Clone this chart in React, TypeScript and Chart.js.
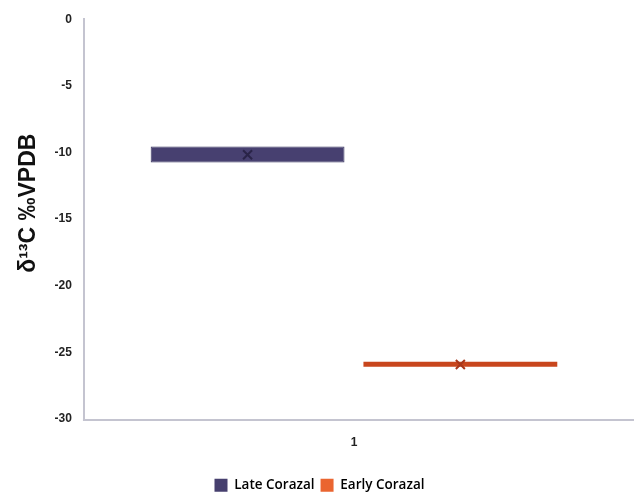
import React, { useEffect, useRef } from "react";
import { Chart, registerables } from "chart.js";

Chart.register(...registerables);

const categories = ["1"];
const seriesNames = ["Late Corazal", "Early Corazal"];
const lowValues = [-10.75, -26.07];
const highValues = [-9.55, -25.7];
const meanValues = [-10.17, -25.9];
const fillColors = ["#474070", "#c8461d"];
const legendColors = ["#463f6e", "#ea6530"];
const yTicks = [0, -5, -10, -15, -20, -25, -30];

const meanPlugin = {
  id: "meanMarkers",
  afterDatasetsDraw(chart: any) {
    const ctx = chart.ctx;
    const yScale = chart.scales.y;
    seriesNames.forEach((_, i) => {
      const meta = chart.getDatasetMeta(i);
      const el = meta.data[0];
      if (!el) return;
      const x = el.x;
      const y = yScale.getPixelForValue(meanValues[i]);
      const s = 4.5;
      ctx.save();
      ctx.strokeStyle = i === 0 ? "#2a2448" : "#a8361a";
      ctx.lineWidth = 2;
      ctx.beginPath();
      ctx.moveTo(x - s, y - s);
      ctx.lineTo(x + s, y + s);
      ctx.moveTo(x + s, y - s);
      ctx.lineTo(x - s, y + s);
      ctx.stroke();
      ctx.restore();
    });
    // x-axis baseline, running to the canvas edge
    const a = chart.chartArea;
    ctx.save();
    ctx.strokeStyle = "#c4c4d0";
    ctx.lineWidth = 2;
    ctx.beginPath();
    ctx.moveTo(a.left - 1, Math.round(a.bottom) + 1);
    ctx.lineTo(chart.width, Math.round(a.bottom) + 1);
    ctx.stroke();
    ctx.restore();
  },
};

export default function App() {
  const ref = useRef<HTMLCanvasElement | null>(null);
  useEffect(() => {
    document.body.style.margin = "0";
    const canvas = ref.current!;
    const chart = new Chart(canvas, {
      type: "bar",
      data: {
        labels: categories,
        datasets: seriesNames.map((name, i) => ({
          label: name,
          data: [[lowValues[i], highValues[i]]] as any,
          backgroundColor: fillColors[i],
          borderColor: i === 0 ? "#3a3460" : fillColors[i],
          borderWidth: i === 0 ? 1 : 0,
          borderSkipped: false,
          barPercentage: 0.911,
          categoryPercentage: 0.788,
        })),
      },
      options: {
        animation: false,
        responsive: false,
        maintainAspectRatio: false,
        layout: { padding: { left: 15, right: 10, top: 8, bottom: -8 } },
        plugins: {
          tooltip: { enabled: false },
          legend: {
            position: "bottom",
            labels: {
              boxWidth: 13,
              boxHeight: 13,
              padding: 6,
              color: "#333",
              font: { family: "'Open Sans'", size: 13.5, weight: "600" as any },
              generateLabels: () =>
                seriesNames.map((n, i) => ({
                  text: n,
                  fillStyle: legendColors[i],
                  strokeStyle: legendColors[i],
                  lineWidth: 0,
                  datasetIndex: i,
                  hidden: false,
                })),
            },
          },
        },
        scales: {
          x: {
            grid: { display: false, drawTicks: false },
            border: { display: false },
            afterFit: (axis: any) => {
              axis.height += 7;
            },
            ticks: {
              color: "#222",
              padding: 16,
              font: { family: "'Liberation Sans'", size: 12, weight: "bold" as any },
            },
          },
          y: {
            min: -30,
            max: 0,
            afterBuildTicks: (axis: any) => {
              axis.ticks = yTicks.map((v) => ({ value: v }));
            },
            grid: { display: false, drawTicks: false },
            border: { color: "#c4c4d0", width: 2 },
            ticks: {
              color: "#222",
              padding: 12,
              font: { family: "'Liberation Sans'", size: 12, weight: "bold" as any },
            },
            title: {
              display: true,
              text: "     δ¹³C ‰VPDB",
              color: "#111",
              padding: { top: 0, bottom: 0 },
              font: { family: "'Liberation Sans'", size: 23, weight: "bold" as any },
            },
          },
        },
      },
      plugins: [meanPlugin],
    });
    return () => chart.destroy();
  }, []);
  return <canvas ref={ref} width={634} height={494} style={{ display: "block" }} />;
}
